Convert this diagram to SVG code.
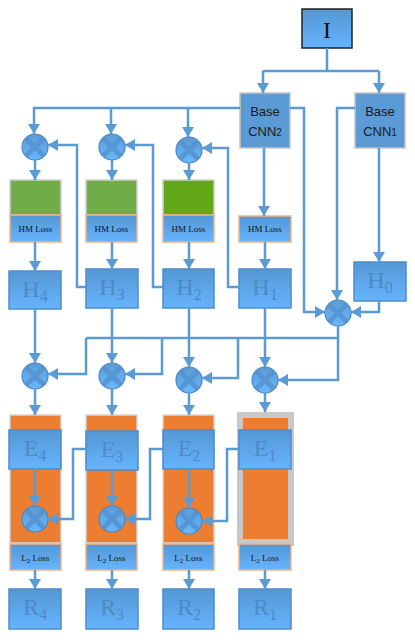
<svg xmlns="http://www.w3.org/2000/svg" width="415" height="640" viewBox="0 0 415 640">
<defs>
<linearGradient id="bg" x1="0" y1="0" x2="0" y2="1">
<stop offset="0" stop-color="#5597d3"/>
<stop offset="1" stop-color="#66b4ff"/>
</linearGradient>
<linearGradient id="cg" x1="0" y1="0" x2="0" y2="1">
<stop offset="0" stop-color="#5b9bd5"/>
<stop offset="1" stop-color="#6ab8ff"/>
</linearGradient>
<marker id="ah" viewBox="0 0 10 12" refX="10" refY="6" markerWidth="10" markerHeight="12" markerUnits="userSpaceOnUse" orient="auto">
<path d="M0,0 L10,6 L0,12 z" fill="#5b9bd5"/>
</marker>
<symbol id="mul" viewBox="-14 -14 28 28" overflow="visible">
<circle r="13" fill="url(#cg)" stroke="#4a86c2" stroke-width="1.2"/>
<path d="M-9,-9 L9,9 M9,-9 L-9,9" stroke="#5593d0" stroke-width="5" stroke-linecap="butt" opacity="0.85"/>
</symbol>
</defs>
<style>
.box{fill:url(#bg);stroke:#4f8cc9;stroke-width:1.5}
.cnn{fill:#5b9bd5;stroke:#c4c4c4;stroke-width:1.5}
.loss{fill:url(#bg);stroke:#f4b183;stroke-width:1.5}
.green{stroke:#cfcfcf;stroke-width:1.5}
.orange{fill:#ed7d31;stroke:#d6d6d6;stroke-width:1.5}
.ln{fill:none;stroke:#5b9bd5;stroke-width:2.5}
.arr{marker-end:url(#ah)}
.ht{font-family:"Liberation Serif",serif;font-size:24px;fill:#4d8ac6;text-anchor:middle}
.sub{font-size:16px}
.lt{font-family:"Liberation Serif",serif;font-size:9px;fill:#111;text-anchor:middle}
.ct{font-family:"Liberation Sans",Arial,sans-serif;font-size:13px;fill:#1a1a1a;text-anchor:middle}
</style>

<g id="I"><rect x="302" y="9" width="50" height="39" fill="url(#bg)" stroke="#222" stroke-width="1.5"/><text x="327" y="38" class="ht" style="fill:#111">I</text></g>
<g id="cnn2"><rect class="cnn" x="240" y="93" width="50" height="55"/><text x="265" y="116" class="ct">Base</text><text x="265" y="136" class="ct">CNN<tspan font-size="10">2</tspan></text></g>
<g id="cnn1"><rect class="cnn" x="355" y="93" width="50" height="55"/><text x="380" y="116" class="ct">Base</text><text x="380" y="136" class="ct">CNN<tspan font-size="10">1</tspan></text></g>

<g id="m1"><use href="#mul" x="21" y="133" width="28" height="28"/></g>
<g id="m2"><use href="#mul" x="98" y="133" width="28" height="28"/></g>
<g id="m3"><use href="#mul" x="175" y="136" width="28" height="28"/></g>

<g id="g4"><rect class="green" x="10" y="180" width="51" height="35" fill="#70ad47"/><rect class="loss" x="10" y="215" width="51" height="27"/><text x="35.5" y="232" class="lt">HM Loss</text></g>
<g id="g3"><rect class="green" x="86" y="180" width="51" height="35" fill="#70ad47"/><rect class="loss" x="86" y="215" width="51" height="27"/><text x="111.5" y="232" class="lt">HM Loss</text></g>
<g id="g2"><rect class="green" x="163" y="180" width="51" height="35" fill="#62a818"/><rect class="loss" x="163" y="215" width="51" height="27"/><text x="188.5" y="232" class="lt">HM Loss</text></g>
<g id="g1"><rect class="loss" x="239" y="216" width="52" height="26"/><text x="265" y="232" class="lt">HM Loss</text></g>

<g id="H4"><rect class="box" x="9" y="271" width="52" height="38"/><text x="35" y="297" class="ht">H<tspan class="sub" dy="5">4</tspan></text></g>
<g id="H3"><rect class="box" x="86" y="269" width="52" height="39"/><text x="112" y="295" class="ht">H<tspan class="sub" dy="5">3</tspan></text></g>
<g id="H2"><rect class="box" x="163" y="269" width="51" height="39"/><text x="189" y="295" class="ht">H<tspan class="sub" dy="5">2</tspan></text></g>
<g id="H1"><rect class="box" x="239" y="269" width="52" height="39"/><text x="265" y="295" class="ht">H<tspan class="sub" dy="5">1</tspan></text></g>
<g id="H0"><rect class="box" x="354" y="262" width="52" height="39"/><text x="380" y="288" class="ht">H<tspan class="sub" dy="5">0</tspan></text></g>

<g id="mc"><use href="#mul" x="324" y="299" width="28" height="28"/></g>
<g id="m5"><use href="#mul" x="21" y="362" width="28" height="28"/></g>
<g id="m6"><use href="#mul" x="98" y="362" width="28" height="28"/></g>
<g id="m7"><use href="#mul" x="175" y="366" width="28" height="28"/></g>
<g id="m8"><use href="#mul" x="251" y="366" width="28" height="28"/></g>

<g id="col4"><rect class="orange" x="10" y="415" width="51" height="128"/><rect class="box" x="9" y="430" width="52" height="39"/><text x="35" y="456" class="ht">E<tspan class="sub" dy="5">4</tspan></text><use href="#mul" x="21" y="505" width="28" height="28"/><rect class="loss" x="10" y="544" width="51" height="26"/><text x="35.5" y="561" class="lt">L<tspan font-size="7" dy="2">2</tspan><tspan dy="-2"> Loss</tspan></text></g>
<g id="col3"><rect class="orange" x="86" y="415" width="51" height="128"/><rect class="box" x="86" y="431" width="52" height="39"/><text x="112" y="457" class="ht">E<tspan class="sub" dy="5">3</tspan></text><use href="#mul" x="98" y="505" width="28" height="28"/><rect class="loss" x="86" y="544" width="51" height="26"/><text x="111.5" y="561" class="lt">L<tspan font-size="7" dy="2">2</tspan><tspan dy="-2"> Loss</tspan></text></g>
<g id="col2"><rect class="orange" x="163" y="415" width="51" height="128"/><rect class="box" x="163" y="430" width="51" height="39"/><text x="189" y="456" class="ht">E<tspan class="sub" dy="5">2</tspan></text><use href="#mul" x="175" y="507" width="28" height="28"/><rect class="loss" x="163" y="544" width="51" height="26"/><text x="188.5" y="561" class="lt">L<tspan font-size="7" dy="2">2</tspan><tspan dy="-2"> Loss</tspan></text></g>
<g id="col1"><rect x="237" y="412" width="57" height="134" fill="#c8c8c8"/><rect x="243" y="418" width="45" height="121" fill="#ed7d31"/><rect class="box" x="239" y="430" width="52" height="39"/><text x="265" y="456" class="ht">E<tspan class="sub" dy="5">1</tspan></text><rect class="loss" x="239" y="544" width="52" height="26"/><text x="265" y="561" class="lt">L<tspan font-size="7" dy="2">2</tspan><tspan dy="-2"> Loss</tspan></text></g>

<g id="R4"><rect class="box" x="9" y="589" width="52" height="40"/><text x="35" y="615" class="ht">R<tspan class="sub" dy="5">4</tspan></text></g>
<g id="R3"><rect class="box" x="86" y="589" width="52" height="40"/><text x="112" y="615" class="ht">R<tspan class="sub" dy="5">3</tspan></text></g>
<g id="R2"><rect class="box" x="163" y="589" width="51" height="40"/><text x="189" y="615" class="ht">R<tspan class="sub" dy="5">2</tspan></text></g>
<g id="R1"><rect class="box" x="239" y="589" width="52" height="40"/><text x="265" y="615" class="ht">R<tspan class="sub" dy="5">1</tspan></text></g>

<g id="connectors">
<path class="ln" d="M327,48 V71 M263,71 H379"/>
<path class="ln arr" d="M263,71 V93"/>
<path class="ln arr" d="M379,71 V93"/>
<path class="ln arr" d="M240,108 H34 V134"/>
<path class="ln arr" d="M111,108 V134"/>
<path class="ln arr" d="M188,108 V137"/>
<path class="ln arr" d="M290,108 H304 V312 H325"/>
<path class="ln arr" d="M355,108 H337 V300"/>
<path class="ln arr" d="M379,148 V262"/>
<path class="ln arr" d="M379,301 V312 H351"/>
<path class="ln arr" d="M264,148 V216"/>
<path class="ln arr" d="M35,160 V180"/>
<path class="ln arr" d="M112,160 V180"/>
<path class="ln arr" d="M189,163 V180"/>
<path class="ln arr" d="M35,242 V271"/>
<path class="ln arr" d="M112,242 V269"/>
<path class="ln arr" d="M189,242 V269"/>
<path class="ln arr" d="M265,242 V269"/>
<path class="ln arr" d="M86,287 H77 V145 H48"/>
<path class="ln arr" d="M163,287 H153 V145 H125"/>
<path class="ln arr" d="M239,287 H228 V148 H202"/>
<path class="ln" d="M338,326 V338 M86,338 H338"/>
<path class="ln arr" d="M86,338 V374 H48"/>
<path class="ln arr" d="M162,338 V374 H125"/>
<path class="ln arr" d="M238,338 V378 H202"/>
<path class="ln arr" d="M338,338 V380 H278"/>
<path class="ln arr" d="M35,309 V363"/>
<path class="ln arr" d="M112,308 V363"/>
<path class="ln arr" d="M189,308 V367"/>
<path class="ln arr" d="M265,308 V367"/>
<path class="ln arr" d="M35,389 V415"/>
<path class="ln arr" d="M112,389 V415"/>
<path class="ln arr" d="M189,393 V415"/>
<path class="ln arr" d="M265,393 V412"/>
<path class="ln arr" d="M35,469 V506"/>
<path class="ln arr" d="M112,470 V506"/>
<path class="ln arr" d="M189,469 V508"/>
<path class="ln arr" d="M86,449 H73 V519 H48"/>
<path class="ln arr" d="M163,449 H150 V519 H125"/>
<path class="ln arr" d="M239,449 H227 V521 H202"/>
<path class="ln arr" d="M35,570 V589"/>
<path class="ln arr" d="M112,570 V589"/>
<path class="ln arr" d="M189,570 V589"/>
<path class="ln arr" d="M265,570 V589"/>
</g>
</svg>
